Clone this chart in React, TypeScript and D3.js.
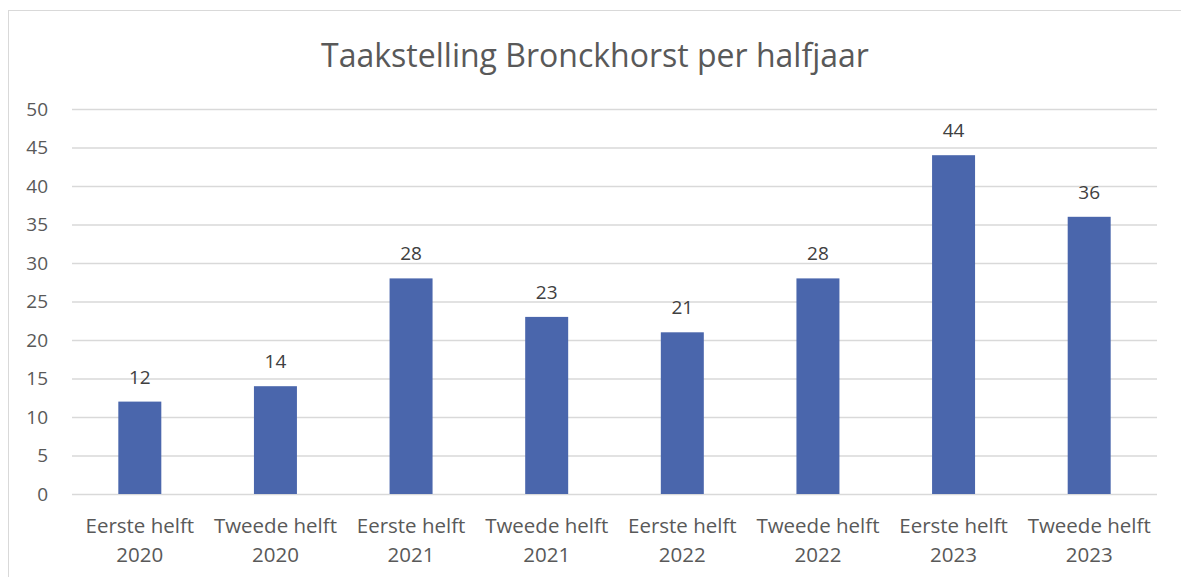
import { useEffect, useRef } from "react";
import * as d3 from "d3";

// data
const categories = [
  ["Eerste helft", "2020"],
  ["Tweede helft", "2020"],
  ["Eerste helft", "2021"],
  ["Tweede helft", "2021"],
  ["Eerste helft", "2022"],
  ["Tweede helft", "2022"],
  ["Eerste helft", "2023"],
  ["Tweede helft", "2023"],
];
const values = [12, 14, 28, 23, 21, 28, 44, 36];
const yTicks = [0, 5, 10, 15, 20, 25, 30, 35, 40, 45, 50];
const title = "Taakstelling Bronckhorst per halfjaar";

const W = 1181;
const H = 577;
const FONT = "'Open Sans', 'Liberation Sans', sans-serif";

export default function App() {
  const ref = useRef<SVGSVGElement>(null);

  useEffect(() => {
    if (!ref.current) return;
    const svg = d3.select(ref.current);
    svg.selectAll("*").remove();

    const m = { top: 109, right: 24, bottom: 83, left: 72 };
    const w = W - m.left - m.right;
    const h = H - m.top - m.bottom;

    // chart frame
    svg
      .append("rect")
      .attr("x", 8.5)
      .attr("y", 10.5)
      .attr("width", W + 20)
      .attr("height", H + 20)
      .attr("fill", "#fff")
      .attr("stroke", "#d9d9d9");

    svg
      .append("text")
      .attr("x", 595)
      .attr("y", 67)
      .attr("text-anchor", "middle")
      .attr("font-family", FONT)
      .attr("font-size", 32)
      .attr("fill", "#595959")
      .text(title);

    const keys = categories.map((_, i) => String(i));
    const x = d3.scaleBand().domain(keys).range([0, w]).paddingInner(0.683).paddingOuter(0.3415);
    const y = d3.scaleLinear().domain([0, 50]).range([h, 0]);

    const g = svg.append("g").attr("transform", `translate(${m.left},${m.top})`);

    // grid
    g.append("g")
      .call(d3.axisLeft(y).tickValues(yTicks).tickSize(-w).tickFormat(() => ""))
      .call((a) => {
        a.select(".domain").remove();
        a.selectAll("line").attr("stroke", "#d9d9d9").attr("stroke-width", 1.3);
      });

    // y labels
    g.append("g")
      .call(d3.axisLeft(y).tickValues(yTicks).tickSize(0).tickPadding(24))
      .call((a) => {
        a.select(".domain").remove();
        a.selectAll("text")
          .attr("font-family", FONT)
          .attr("font-size", 19)
          .attr("fill", "#595959");
      });

    // bars
    g.selectAll("rect.bar")
      .data(values)
      .join("rect")
      .attr("class", "bar")
      .attr("x", (_, i) => x(String(i))!)
      .attr("y", (d) => y(d))
      .attr("width", x.bandwidth())
      .attr("height", (d) => h - y(d))
      .attr("fill", "#4a66ac");

    // data labels
    g.selectAll("text.lbl")
      .data(values)
      .join("text")
      .attr("class", "lbl")
      .attr("x", (_, i) => x(String(i))! + x.bandwidth() / 2)
      .attr("y", (d) => y(d) - 18)
      .attr("text-anchor", "middle")
      .attr("font-family", FONT)
      .attr("font-size", 19)
      .attr("fill", "#404040")
      .text((d) => d);

    // category labels
    categories.forEach((lines, i) => {
      const cx = x(String(i))! + x.bandwidth() / 2;
      const t = g
        .append("text")
        .attr("text-anchor", "middle")
        .attr("font-family", FONT)
        .attr("font-size", 20.5)
        .attr("fill", "#595959");
      lines.forEach((line, j) => {
        t.append("tspan")
          .attr("x", cx)
          .attr("y", h + 39 + j * 29)
          .text(line);
      });
    });
  }, []);

  return (
    <svg
      ref={ref}
      width={W}
      height={H}
      style={{ position: "absolute", left: 0, top: 0, background: "#fff" }}
    />
  );
}
